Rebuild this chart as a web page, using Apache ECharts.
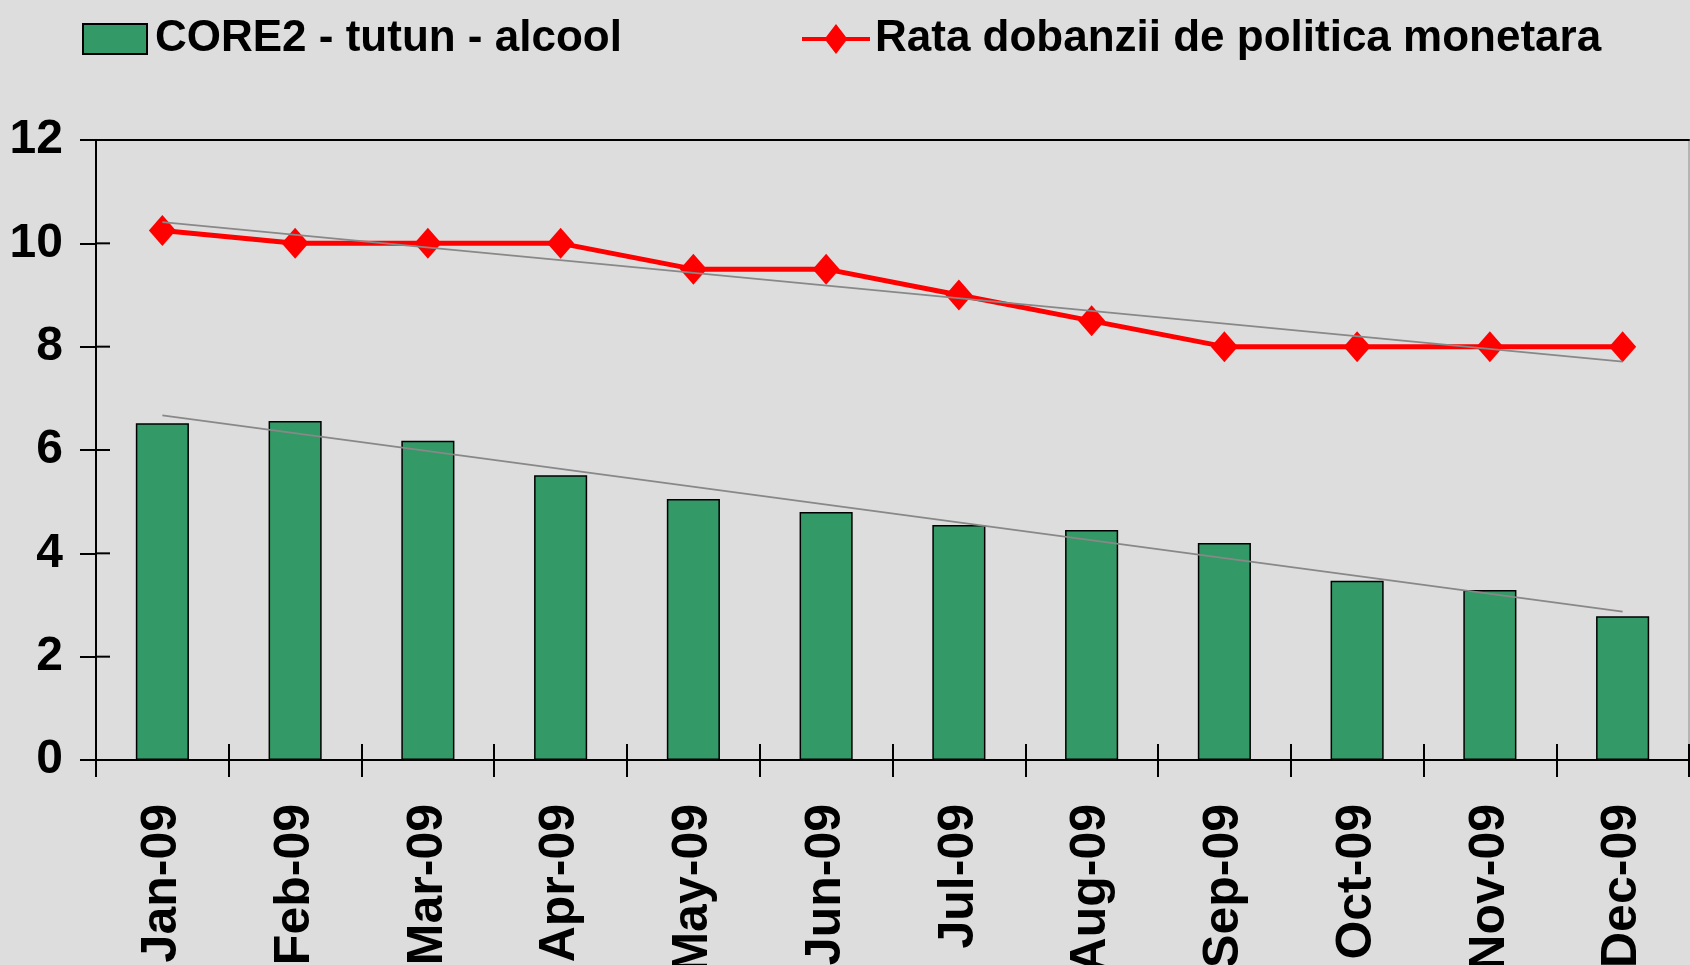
<!DOCTYPE html>
<html>
<head>
<meta charset="utf-8">
<script src="https://cdn.jsdelivr.net/npm/echarts@6/dist/echarts.min.js"></script>
<style>
  html, body { margin: 0; padding: 0; background: #dddddd; }
  #chart { width: 1690px; height: 965px; }
</style>
</head>
<body>
<div id="chart"></div>
<script>
// luni 2009
const months = ['Jan-09', 'Feb-09', 'Mar-09', 'Apr-09', 'May-09', 'Jun-09',
                'Jul-09', 'Aug-09', 'Sep-09', 'Oct-09', 'Nov-09', 'Dec-09'];
// CORE2 - tutun - alcool (%)
const core2 = [6.52, 6.56, 6.18, 5.51, 5.05, 4.80, 4.55, 4.45, 4.20, 3.47, 3.29, 2.78];
// rata dobanzii de politica monetara (%)
const rate = [10.25, 10, 10, 10, 9.5, 9.5, 9, 8.5, 8, 8, 8, 8];
// capetele liniilor de trend: [Jan, Dec]
const core2Trend = [6.67, 2.87];
const rateTrend = [10.41, 7.71];
const yTicks = [0, 2, 4, 6, 8, 10, 12];

const FONT = "'Liberation Sans', Arial, sans-serif";
const NAME_BAR = 'CORE2 - tutun - alcool';
const NAME_LINE = 'Rata dobanzii de politica monetara';

// iconita legendei: linie + romb
const LINE_ICON = 'path://M0,13L68,13L68,17L0,17Z M34,0L45.5,15L34,30L22.5,15Z';

const GRID_LEFT = 96;

let myChart = echarts.init(document.getElementById('chart'));

const legendText = (pad) => ({
  fontFamily: FONT, fontWeight: 'bold', fontSize: 44, color: '#000',
  lineHeight: 30, padding: [0, 0, 0, pad]
});

// partea interioara a tick-urilor axei Y: o serie "custom" pe aceeasi scala
const innerTicks = {
  name: 'tick', type: 'custom', silent: true, z: 10,
  data: yTicks.map(v => [0, v]),
  renderItem: function (params, api) {
    let p = api.coord([0, api.value(1)]);
    return {
      type: 'line',
      shape: { x1: GRID_LEFT, y1: p[1], x2: GRID_LEFT + 14, y2: p[1] },
      style: { stroke: '#000', lineWidth: 2 }
    };
  },
  clip: false
};

myChart.setOption({
  backgroundColor: '#dddddd',
  animation: false,
  legend: [
    {
      data: [{ name: NAME_BAR, icon: 'rect' }], left: 77, top: 12,
      itemWidth: 64, itemHeight: 30,
      textStyle: legendText(3)
    },
    {
      data: [{ name: NAME_LINE, icon: LINE_ICON }], left: 797, top: 12,
      itemWidth: 68, itemHeight: 30,
      itemStyle: { color: '#ff0000', borderWidth: 0 },
      textStyle: legendText(0)
    }
  ],
  grid: {
    left: GRID_LEFT, right: 1, top: 140, bottom: 205,
    outerBoundsMode: 'none',
    containLabel: false,
    show: true, borderColor: '#8a8a8a', borderWidth: 1,
    backgroundColor: 'transparent'
  },
  xAxis: [
    {
      type: 'category', data: months, position: 'bottom',
      axisLine: { show: true, lineStyle: { color: '#000', width: 2 } },
      axisTick: { show: true, interval: 0, length: 17, lineStyle: { color: '#000', width: 2 } },
      axisLabel: {
        rotate: 90, margin: 44, interval: 0,
        fontFamily: FONT, fontWeight: 'bold', fontSize: 50, color: '#000'
      }
    },
    {
      // capetele de tick din interior
      type: 'category', data: months, position: 'bottom',
      axisLine: { show: false },
      axisTick: { show: true, interval: 0, inside: true, length: 16, lineStyle: { color: '#000', width: 2 } },
      axisLabel: { show: false }
    },
    {
      // linia de sus a zonei graficului
      type: 'category', data: months, position: 'top',
      axisLine: { show: true, lineStyle: { color: '#000', width: 2 } },
      axisTick: { show: false },
      axisLabel: { show: false }
    }
  ],
  yAxis: {
    type: 'value', min: yTicks[0], max: yTicks[yTicks.length - 1], interval: 2,
    position: 'left',
    splitLine: { show: false },
    axisLine: { show: true, lineStyle: { color: '#000', width: 2 } },
    axisTick: { show: true, length: 16, lineStyle: { color: '#000', width: 2 } },
    axisLabel: {
      margin: 33, fontFamily: FONT, fontWeight: 'bold', fontSize: 48, color: '#000'
    }
  },
  series: [
    {
      name: NAME_BAR, type: 'bar', data: core2, barWidth: '40%',
      itemStyle: { color: '#339966', borderColor: '#000', borderWidth: 1.5 }
    },
    {
      name: NAME_LINE, type: 'line', data: rate,
      symbol: 'diamond', symbolSize: [27, 31],
      lineStyle: { color: '#ff0000', width: 5 },
      itemStyle: { color: '#ff0000' },
      z: 3
    },
    {
      name: 'trend CORE2', type: 'line', symbol: 'none', silent: true,
      data: [[months[0], core2Trend[0]], [months[months.length - 1], core2Trend[1]]],
      lineStyle: { color: '#888888', width: 1.8 }, z: 4
    },
    {
      name: 'trend rata', type: 'line', symbol: 'none', silent: true,
      data: [[months[0], rateTrend[0]], [months[months.length - 1], rateTrend[1]]],
      lineStyle: { color: '#888888', width: 1.8 }, z: 4
    },
    innerTicks
  ]
});
</script>
</body>
</html>
